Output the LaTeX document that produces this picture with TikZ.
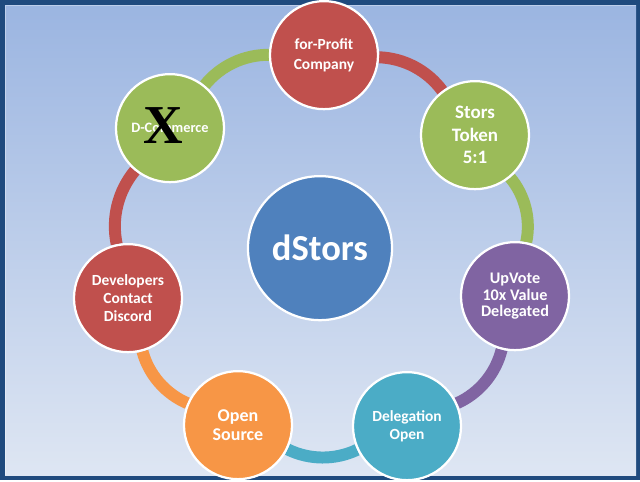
\documentclass[tikz,border=0pt]{standalone}
\usepackage{fontspec}
\setmainfont{Carlito}
\newfontfamily\crossfont{Liberation Serif}
\definecolor{frameblue}{HTML}{1F4A7E}
\definecolor{skytop}{HTML}{9BB5E1}
\definecolor{skybot}{HTML}{DEE6F3}
\definecolor{offred}{HTML}{C0504D}
\definecolor{offgreen}{HTML}{9BBB59}
\definecolor{offpurple}{HTML}{8064A2}
\definecolor{offteal}{HTML}{4BACC6}
\definecolor{offorange}{HTML}{F79646}
\definecolor{offblue}{HTML}{4F81BD}
\pgfdeclarelayer{back}
\pgfdeclarelayer{ring}
\pgfsetlayers{back,ring,main}

\begin{document}
\begin{tikzpicture}[x=0.025cm,y=-0.025cm,
    bubble/.style={circle, draw=white, line width=1.6pt, fill=#1, minimum size=2.7cm,
      inner sep=0pt, text=white, align=center},
    link/.style={draw=#1, line width=8.5pt, bend left=25.7, looseness=0.9}]
  % frame
  \begin{pgfonlayer}{back}
    \fill[frameblue] (0,0) rectangle (640,480);
    \shade[top color=skytop, bottom color=skybot] (5,5) rectangle (636,475);
    \draw[white, opacity=0.35, line width=0.7pt] (5.5,475) -- (5.5,5.5) -- (636,5.5);
  \end{pgfonlayer}
  % hub
  \node[bubble=offblue, minimum size=3.6cm, font=\bfseries\fontsize{26}{30}\selectfont] (hub) at (320,248) {dStors};
  % ring of bubbles
  \node[bubble=offred, font=\bfseries\fontsize{11}{14}\selectfont] (profit) at (324,55) {for-Profit\\Company};
  \node[bubble=offgreen, font=\bfseries\fontsize{13.5}{16}\selectfont] (token) at (475,135) {Stors\\Token\\5:1};
  \node[bubble=offpurple, font=\bfseries\fontsize{11.5}{12}\selectfont] (upvote) at (515,296) {UpVote\\10x Value\\Delegated};
  \node[bubble=offteal, font=\bfseries\fontsize{11}{12.3}\selectfont] (deleg) at (407,426) {Delegation\\Open};
  \node[bubble=offorange, font=\bfseries\fontsize{12.8}{14.2}\selectfont] (source) at (238,425) {Open\\Source};
  \node[bubble=offred, font=\bfseries\fontsize{11}{13}\selectfont] (devs) at (128,298) {Developers\\Contact\\Discord};
  \node[bubble=offgreen, font=\bfseries\fontsize{10.2}{12}\selectfont] (dcom) at (170,128) {D-Commerce};
  \node[font=\crossfont\bfseries\fontsize{39}{40}\selectfont] (cross) at (163,125) {X};
  % arcs
  \begin{pgfonlayer}{ring}
    \path[link=offred] (profit) to (token);
    \path[link=offgreen] (token) to (upvote);
    \path[link=offpurple] (upvote) to (deleg);
    \path[link=offteal] (deleg) to (source);
    \path[link=offorange] (source) to (devs);
    \path[link=offred] (devs) to (dcom);
    \path[link=offgreen] (dcom) to (profit);
  \end{pgfonlayer}
\end{tikzpicture}
\end{document}
